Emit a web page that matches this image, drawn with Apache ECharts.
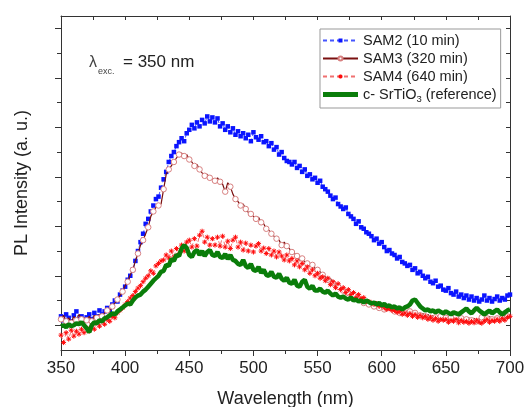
<!DOCTYPE html>
<html>
<head>
<meta charset="utf-8">
<script src="https://cdn.jsdelivr.net/npm/echarts@6/dist/echarts.min.js"></script>
<style>
  html, body { margin: 0; padding: 0; background: #fff; }
  #chart { width: 526px; height: 407px; }
</style>
</head>
<body>
<div id="chart"></div>
<script>
// wavelength grid (nm)
var wavelength = [
  350,352,354,356,358,360,362,364,366,368, 370,372,374,376,378,380,382,384,386,388,
  390,392,394,396,398,400,402,404,406,408, 410,412,414,416,418,420,422,424,426,428,
  430,432,434,436,438,440,442,444,446,448, 450,452,454,456,458,460,462,464,466,468,
  470,472,474,476,478,480,482,484,486,488, 490,492,494,496,498,500,502,504,506,508,
  510,512,514,516,518,520,522,524,526,528, 530,532,534,536,538,540,542,544,546,548,
  550,552,554,556,558,560,562,564,566,568, 570,572,574,576,578,580,582,584,586,588,
  590,592,594,596,598,600,602,604,606,608, 610,612,614,616,618,620,622,624,626,628,
  630,632,634,636,638,640,642,644,646,648, 650,652,654,656,658,660,662,664,666,668,
  670,672,674,676,678,680,682,684,686,688, 690,692,694,696,698,700
];

// SAM2 (10 min)
var sam2 = [
  0.18,0.1,0.22,0.15,0.08,0.2,0.28,0.12,0.18,0.1, 0.16,0.22,0.12,0.25,0.18,0.3,0.22,0.28,0.35,0.3,
  0.42,0.5,0.48,0.62,0.7,0.78,0.92,1.0,1.12,1.3, 1.5,1.68,1.85,2.05,2.15,2.3,2.42,2.55,2.6,2.78,
  2.95,3.1,3.3,3.42,3.5,3.62,3.7,3.78,3.72,3.88, 3.95,4.05,3.98,4.1,4.02,4.15,4.08,4.22,4.12,4.2,
  4.1,4.18,4.02,4.08,3.95,4.02,3.9,3.98,3.85,3.92, 3.82,3.88,3.78,3.85,3.72,3.9,3.8,3.75,3.82,3.7,
  3.72,3.62,3.68,3.55,3.6,3.45,3.5,3.38,3.32,3.3, 3.25,3.3,3.18,3.22,3.1,3.15,3.02,3.05,2.95,2.98,
  2.88,2.92,2.8,2.75,2.7,2.62,2.55,2.58,2.45,2.4, 2.35,2.38,2.25,2.2,2.15,2.05,2.1,1.98,1.95,1.88,
  1.85,1.8,1.72,1.75,1.65,1.68,1.58,1.5,1.52,1.45, 1.42,1.35,1.38,1.28,1.25,1.2,1.22,1.12,1.15,1.05,
  1.08,1.0,0.95,0.98,0.88,0.85,0.9,0.78,0.8,0.72, 0.7,0.75,0.65,0.62,0.68,0.58,0.62,0.55,0.6,0.52,
  0.58,0.5,0.55,0.48,0.52,0.6,0.5,0.55,0.48,0.53, 0.58,0.5,0.55,0.52,0.6,0.62
];

// SAM3 (320 min)
var sam3 = [
  0.12,0.2,0.08,0.15,0.05,0.18,0.1,0.22,0.12,0.15, 0.1,0.18,0.08,0.2,0.15,0.22,0.18,0.25,0.3,0.28,
  0.38,0.45,0.52,0.6,0.68,0.8,0.88,1.02,1.12,1.3, 1.45,1.62,1.72,1.85,1.98,2.2,2.3,2.38,2.42,2.45,
  2.75,3.05,3.15,3.22,3.3,3.38,3.45,3.48,3.42,3.45, 3.35,3.3,3.22,3.25,3.15,3.08,3.02,3.05,2.98,2.95,
  2.92,2.98,2.9,2.85,2.7,2.88,2.8,2.65,2.55,2.5, 2.42,2.45,2.35,2.28,2.25,2.2,2.15,2.18,2.08,2.05,
  1.95,1.92,1.85,1.8,1.75,1.72,1.62,1.68,1.6,1.55, 1.48,1.45,1.4,1.32,1.35,1.28,1.25,1.2,1.22,1.15,
  1.12,1.08,1.02,0.98,0.92,0.95,0.85,0.82,0.78,0.72, 0.7,0.68,0.65,0.6,0.62,0.55,0.52,0.5,0.45,0.48,
  0.42,0.4,0.38,0.42,0.35,0.38,0.32,0.3,0.35,0.3, 0.28,0.32,0.25,0.3,0.26,0.22,0.28,0.2,0.25,0.22,
  0.2,0.24,0.18,0.22,0.15,0.2,0.16,0.12,0.18,0.14, 0.15,0.1,0.16,0.12,0.18,0.1,0.14,0.08,0.12,0.15,
  0.1,0.14,0.08,0.12,0.16,0.1,0.14,0.18,0.12,0.16, 0.14,0.18,0.15,0.2,0.18,0.22
];

// SAM4 (640 min)
var sam4 = [
  -0.2,-0.35,-0.15,-0.28,-0.1,-0.22,-0.12,-0.18,-0.08,-0.15, -0.05,-0.12,0.0,-0.08,0.05,-0.02,0.08,0.02,0.12,0.08,
  0.18,0.15,0.25,0.3,0.35,0.42,0.48,0.55,0.6,0.68, 0.75,0.8,0.88,0.95,1.0,1.1,1.05,1.2,1.25,1.3,
  1.32,1.42,1.36,1.5,1.38,1.55,1.45,1.62,1.5,1.68, 1.72,1.58,1.75,1.6,1.82,1.9,1.68,1.78,1.62,1.75,
  1.62,1.78,1.6,1.8,1.58,1.7,1.55,1.72,1.78,1.58, 1.68,1.52,1.66,1.5,1.62,1.48,1.6,1.65,1.5,1.56,
  1.45,1.55,1.42,1.5,1.38,1.48,1.4,1.32,1.42,1.3, 1.35,1.22,1.3,1.18,1.25,1.12,1.18,1.05,1.12,1.0,
  1.05,0.95,0.98,0.9,0.95,0.82,0.88,0.76,0.84,0.72, 0.76,0.66,0.72,0.62,0.66,0.56,0.62,0.54,0.56,0.48,
  0.48,0.45,0.42,0.44,0.38,0.4,0.35,0.32,0.34,0.3, 0.3,0.26,0.28,0.22,0.25,0.2,0.24,0.18,0.22,0.16,
  0.2,0.15,0.18,0.12,0.16,0.1,0.14,0.08,0.12,0.1, 0.12,0.06,0.1,0.08,0.12,0.05,0.1,0.06,0.08,0.04,
  0.08,0.05,0.1,0.06,0.04,0.08,0.12,0.06,0.1,0.08, 0.12,0.08,0.14,0.1,0.16,0.18
];

// c-SrTiO3 reference
var srtio3 = [
  -0.02,0.0,-0.04,0.02,-0.02,0.0,0.04,0.02,0.06,0.0, -0.06,-0.14,0.0,0.06,0.04,0.1,0.08,0.14,0.16,0.2,
  0.24,0.22,0.28,0.32,0.36,0.4,0.44,0.42,0.5,0.56, 0.6,0.62,0.68,0.72,0.78,0.84,0.9,0.95,1.0,1.08,
  1.1,1.22,1.2,1.34,1.3,1.42,1.4,1.55,1.62,1.56, 1.42,1.38,1.48,1.52,1.42,1.5,1.4,1.48,1.52,1.42,
  1.4,1.48,1.38,1.36,1.44,1.34,1.42,1.32,1.3,1.24, 1.22,1.32,1.2,1.16,1.24,1.12,1.1,1.18,1.06,1.12,
  1.02,1.0,1.08,0.98,0.96,1.04,0.94,0.9,0.96,0.86, 0.84,0.92,0.8,0.78,0.88,0.92,0.78,0.74,0.8,0.7,
  0.7,0.74,0.68,0.66,0.7,0.64,0.6,0.64,0.58,0.56, 0.58,0.54,0.52,0.56,0.5,0.52,0.48,0.5,0.46,0.5,
  0.47,0.44,0.46,0.42,0.45,0.4,0.43,0.38,0.4,0.36, 0.38,0.34,0.36,0.32,0.36,0.38,0.42,0.5,0.52,0.45,
  0.38,0.34,0.3,0.32,0.28,0.3,0.26,0.3,0.27,0.24, 0.28,0.25,0.22,0.26,0.24,0.22,0.26,0.3,0.34,0.28,
  0.24,0.3,0.35,0.3,0.26,0.22,0.26,0.3,0.24,0.28, 0.32,0.26,0.22,0.26,0.3,0.32
];

var majorTicks = [0, 1, 2, 3, 4, 5, 6];
var minorTicks = [0.5, 1.5, 2.5, 3.5, 4.5, 5.5];
var allTicks = [0, 0.5, 1, 1.5, 2, 2.5, 3, 3.5, 4, 4.5, 5, 5.5, 6];

function pairs(ys) {
  return ys.map(function (v, i) { return [wavelength[i], v]; });
}

var font = '"Liberation Sans", Arial, sans-serif';
var axisColor = '#333';

var option = {
  animation: false,
  backgroundColor: '#fff',
  textStyle: { fontFamily: font },
  grid: { left: 61, right: 16, top: 16, bottom: 57, outerBoundsMode: 'none', containLabel: false },
  legend: {
    orient: 'vertical',
    left: 320,
    top: 29,
    padding: [4, 4, 4, 2],
    itemGap: 3,
    itemWidth: 35,
    itemHeight: 5,
    backgroundColor: '#fff',
    borderColor: '#999',
    borderWidth: 1,
    textStyle: {
      fontSize: 14.5,
      color: '#222',
      fontFamily: font,
      rich: {
        t: { fontSize: 14.5, color: '#222', fontFamily: font },
        sub: { fontSize: 9.5, color: '#222', fontFamily: font, padding: [9, 0, 0, 0] }
      }
    },
    formatter: function (name) {
      if (name.indexOf('SrTiO') >= 0) {
        return '{t|c- SrTiO}{sub|3}{t| (reference)}';
      }
      return '{t|' + name + '}';
    },
    data: [
      'SAM2 (10 min)',
      'SAM3 (320 min)',
      'SAM4 (640 min)',
      { name: 'c- SrTiO3 (reference)', icon: 'rect' }
    ]
  },
  xAxis: [
    {
      type: 'value',
      min: 350, max: 700, interval: 50,
      name: 'Wavelength (nm)',
      nameLocation: 'middle',
      nameGap: 40,
      nameMoveOverlap: false,
      nameTextStyle: { fontSize: 18, color: '#222', fontFamily: font },
      axisLine: { onZero: false, lineStyle: { color: axisColor, width: 1 } },
      axisTick: { length: 6, lineStyle: { color: axisColor } },
      minorTick: { show: true, splitNumber: 2, length: 4, lineStyle: { color: axisColor } },
      axisLabel: { fontSize: 17, color: '#222', margin: 10, fontFamily: font },
      splitLine: { show: false }
    },
    {
      type: 'value',
      position: 'top',
      min: 350, max: 700, interval: 25,
      axisLine: { onZero: false, lineStyle: { color: axisColor, width: 1 } },
      axisTick: { inside: true, length: 4, lineStyle: { color: axisColor } },
      axisLabel: { show: false },
      splitLine: { show: false }
    }
  ],
  yAxis: [
    {
      type: 'value',
      min: -0.5, max: 6.25,
      name: 'PL Intensity (a. u.)',
      nameLocation: 'middle',
      nameGap: 30,
      nameMoveOverlap: false,
      nameTextStyle: { fontSize: 18, color: '#222', fontFamily: font },
      axisLine: { show: true, onZero: false, lineStyle: { color: axisColor, width: 1 } },
      axisTick: { show: true, length: 6, customValues: majorTicks, lineStyle: { color: axisColor } },
      axisLabel: { show: false },
      splitLine: { show: false }
    },
    {
      type: 'value',
      min: -0.5, max: 6.25,
      position: 'left',
      axisLine: { show: false, onZero: false },
      axisTick: { show: true, length: 4, customValues: minorTicks, lineStyle: { color: axisColor } },
      axisLabel: { show: false },
      splitLine: { show: false }
    },
    {
      type: 'value',
      min: -0.5, max: 6.25,
      position: 'right',
      axisLine: { show: true, onZero: false, lineStyle: { color: axisColor, width: 1 } },
      axisTick: { show: true, inside: true, length: 4, customValues: allTicks, lineStyle: { color: axisColor } },
      axisLabel: { show: false },
      splitLine: { show: false }
    }
  ],
  graphic: [
    { type: 'text', left: 89, top: 55, style: { text: 'λ', fontSize: 16, fill: '#444', fontFamily: font } },
    { type: 'text', left: 98, top: 67, style: { text: 'exc.', fontSize: 9, fill: '#444', fontFamily: font } },
    { type: 'text', left: 123, top: 54, style: { text: '= 350 nm', fontSize: 17, fill: '#222', fontFamily: font } }
  ],
  series: [
    {
      name: 'SAM2 (10 min)',
      type: 'line',
      data: pairs(sam2),
      symbol: 'rect',
      symbolSize: 4.5,
      itemStyle: { color: '#0a14ff' },
      lineStyle: { color: '#4455ff', width: 1, type: [4, 3] },
      z: 2
    },
    {
      name: 'SAM3 (320 min)',
      type: 'line',
      data: pairs(sam3),
      symbol: 'circle',
      symbolSize: function (val, params) { return params.dataIndex % 2 ? 0 : 5.5; },
      itemStyle: { color: '#fff', borderColor: '#d88080', borderWidth: 1 },
      lineStyle: { color: '#7a1010', width: 1.2 },
      z: 3
    },
    {
      name: 'SAM4 (640 min)',
      type: 'line',
      data: pairs(sam4),
      symbol: 'path://M0,5L10,5M5,0L5,10M1.5,1.5L8.5,8.5M8.5,1.5L1.5,8.5',
      symbolSize: 5,
      itemStyle: { color: 'transparent', borderColor: '#ff0a0a', borderWidth: 1 },
      lineStyle: { color: '#f07070', width: 1, type: [4, 3] },
      z: 4
    },
    {
      name: 'c- SrTiO3 (reference)',
      type: 'line',
      data: pairs(srtio3),
      symbol: 'none',
      itemStyle: { color: '#0a7d0a' },
      lineStyle: { color: '#0a7d0a', width: 4.5 },
      z: 5
    }
  ]
};

var myChart = echarts.init(document.getElementById('chart'));
myChart.setOption(option);
</script>
</body>
</html>
